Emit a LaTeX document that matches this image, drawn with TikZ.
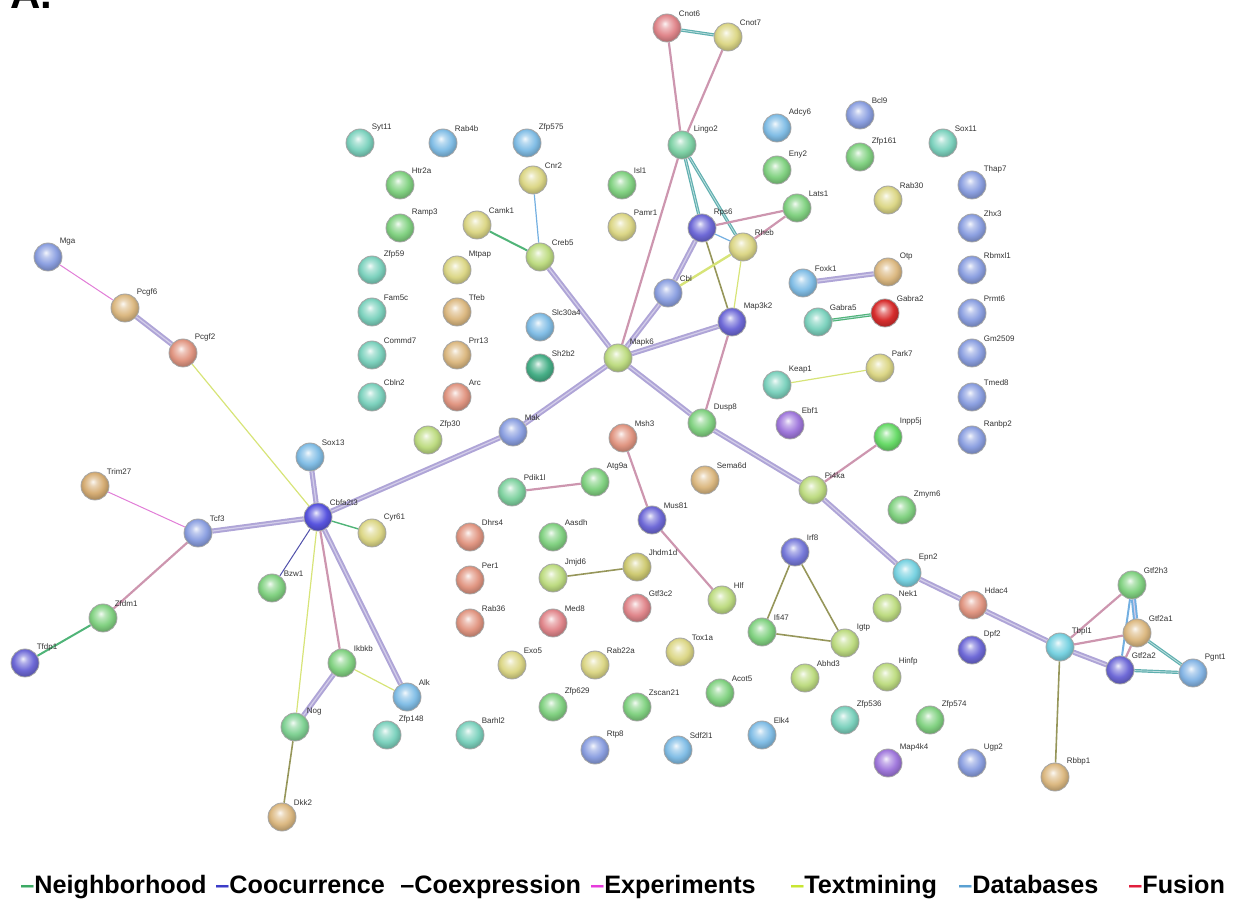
\documentclass[tikz,border=0pt]{standalone}
\usepackage{fontspec}
\setmainfont{Liberation Sans}
\usetikzlibrary{positioning}
\pgfdeclarelayer{bg}
\pgfsetlayers{bg,main}
% node colours
\definecolor{pBlue}{RGB}{140,160,225}
\definecolor{pDark}{RGB}{110,105,215}
\definecolor{pTeal}{RGB}{125,210,190}
\definecolor{pDeep}{RGB}{70,175,135}
\definecolor{pSky}{RGB}{130,190,230}
\definecolor{pGreen}{RGB}{130,210,130}
\definecolor{pLime}{RGB}{190,220,130}
\definecolor{pYellow}{RGB}{220,215,135}
\definecolor{pTan}{RGB}{220,185,130}
\definecolor{pSalmon}{RGB}{225,150,130}
\definecolor{pPink}{RGB}{225,135,140}
\definecolor{pRed}{RGB}{215,45,45}
\definecolor{pPurple}{RGB}{160,120,220}
\definecolor{pCyan}{RGB}{120,210,225}
% edge colours
\definecolor{eLav}{RGB}{175,165,215}
\definecolor{eMauve}{RGB}{205,150,175}
\definecolor{eExp}{RGB}{225,125,215}
\definecolor{eTxt}{RGB}{215,228,120}
\definecolor{eDb}{RGB}{115,175,225}
\definecolor{eNb}{RGB}{80,180,120}
\definecolor{eOl}{RGB}{150,150,90}
\definecolor{eTeal}{RGB}{95,175,175}
\definecolor{eCo}{RGB}{80,80,170}
% legend colours
\definecolor{legNb}{RGB}{60,170,100}
\definecolor{legCo}{RGB}{60,60,200}
\definecolor{legCx}{RGB}{0,0,0}
\definecolor{legEx}{RGB}{230,60,220}
\definecolor{legTm}{RGB}{200,230,50}
\definecolor{legDb}{RGB}{90,160,210}
\definecolor{legFu}{RGB}{225,30,60}
% glossy protein ball
\colorlet{protc}{pBlue}
\pgfdeclareradialshading[protc]{strball}{\pgfpoint{-4bp}{8bp}}{%
  color(0bp)=(protc!10!white); color(7bp)=(protc!55!white);
  color(18bp)=(protc); color(27bp)=(protc!80!black); color(50bp)=(protc!80!black)}
\tikzset{pcol/.code={\colorlet{protc}{#1}}}
\tikzstyle{prot}=[circle,minimum size=14pt,inner sep=0,draw=black!35,line width=0.4pt,shading=strball]
\tikzstyle{lab}=[font=\fontsize{4}{4}\selectfont,inner sep=0.6pt,text=black!80]
\tikzset{pr/.style 2 args={prot,pcol=#1,label={[lab]45:#2}}}
\tikzstyle{exper}=[draw=eExp,line width=0.5pt]
\tikzstyle{txtm}=[draw=eTxt,line width=0.6pt]
\tikzstyle{datab}=[draw=eDb,line width=0.6pt]
\tikzstyle{neigh}=[draw=eNb,line width=1pt]
\tikzstyle{cooc}=[draw=eCo,line width=0.5pt]
\tikzstyle{multi}=[draw=eLav,double=eLav!55!white,double distance=0.6pt,line width=1pt]
\tikzstyle{mauve}=[draw=eMauve,line width=1.1pt]
\tikzstyle{olive}=[draw=eOl,line width=0.8pt]
\tikzstyle{tealx}=[draw=eTeal,double=eTeal!40!white,double distance=0.4pt,line width=0.6pt]
\tikzstyle{leg}=[anchor=base west,inner sep=0,font=\bfseries\fontsize{12.6}{13}\selectfont]
\begin{document}
\begin{tikzpicture}[x=0.5pt,y=-0.5pt]
\useasboundingbox (0,0) rectangle (1233,903);
\node (panel) at (10,9) [anchor=base west,inner sep=0,font=\bfseries\fontsize{21}{21}\selectfont] {A.};
% connected proteins
\node (mga) at (48,257) [pr={pBlue}{Mga}] {};
\node (pcgf6) at (125,308) [pr={pTan}{Pcgf6}] {};
\node (pcgf2) at (183,353) [pr={pSalmon}{Pcgf2}] {};
\node (trim27) at (95,486) [pr={pTan!80!brown}{Trim27}] {};
\node (tcf3) at (198,533) [pr={pBlue}{Tcf3}] {};
\node (zfdm1) at (103,618) [pr={pGreen}{Zfdm1}] {};
\node (tfdp1) at (25,663) [pr={pDark}{Tfdp1}] {};
\node (sox13) at (310,457) [pr={pSky}{Sox13}] {};
\node (cbfa) at (318,517) [pr={pDark!80!blue}{Cbfa2t3}] {};
\node (cyr61) at (372,533) [pr={pYellow}{Cyr61}] {};
\node (bzw1) at (272,588) [pr={pGreen}{Bzw1}] {};
\node (ikbkb) at (342,663) [pr={pGreen}{Ikbkb}] {};
\node (alk) at (407,697) [pr={pSky}{Alk}] {};
\node (nog) at (295,727) [pr={pGreen!70!pTeal}{Nog}] {};
\node (dkk2) at (282,817) [pr={pTan}{Dkk2}] {};
\node (cnr2) at (533,180) [pr={pYellow}{Cnr2}] {};
\node (camk1) at (477,225) [pr={pYellow}{Camk1}] {};
\node (creb5) at (540,257) [pr={pLime}{Creb5}] {};
\node (mak) at (513,432) [pr={pBlue}{Mak}] {};
\node (mapk6) at (618,358) [pr={pLime}{Mapk6}] {};
\node (cnot6) at (667,28) [pr={pPink}{Cnot6}] {};
\node (cnot7) at (728,37) [pr={pYellow}{Cnot7}] {};
\node (lingo2) at (682,145) [pr={pTeal!60!pGreen}{Lingo2}] {};
\node (rps6) at (702,228) [pr={pDark}{Rps6}] {};
\node (rheb) at (743,247) [pr={pYellow}{Rheb}] {};
\node (lats1) at (797,208) [pr={pGreen}{Lats1}] {};
\node (cbl) at (668,293) [pr={pBlue}{Cbl}] {};
\node (map3k2) at (732,322) [pr={pDark}{Map3k2}] {};
\node (dusp8) at (702,423) [pr={pGreen}{Dusp8}] {};
\node (pi4ka) at (813,490) [pr={pLime}{Pi4ka}] {};
\node (inpp5j) at (888,437) [pr={pGreen!80!green}{Inpp5j}] {};
\node (epn2) at (907,573) [pr={pCyan}{Epn2}] {};
\node (hdac4) at (973,605) [pr={pSalmon}{Hdac4}] {};
\node (tbpl1) at (1060,647) [pr={pCyan}{Tbpl1}] {};
\node (gtf2h3) at (1132,585) [pr={pGreen}{Gtf2h3}] {};
\node (gtf2a1) at (1137,633) [pr={pTan}{Gtf2a1}] {};
\node (gtf2a2) at (1120,670) [pr={pDark}{Gtf2a2}] {};
\node (pgnt1) at (1193,673) [pr={pSky!70!pBlue}{Pgnt1}] {};
\node (rbbp1) at (1055,777) [pr={pTan}{Rbbp1}] {};
\node (msh3) at (623,438) [pr={pSalmon}{Msh3}] {};
\node (mus81) at (652,520) [pr={pDark}{Mus81}] {};
\node (hlf) at (722,600) [pr={pLime}{Hlf}] {};
\node (pdik1l) at (512,492) [pr={pTeal!50!pGreen}{Pdik1l}] {};
\node (atg9a) at (595,482) [pr={pGreen}{Atg9a}] {};
\node (jmjd6) at (553,578) [pr={pLime}{Jmjd6}] {};
\node (jhdm1d) at (637,567) [pr={pYellow!85!olive}{Jhdm1d}] {};
\node (irf8) at (795,552) [pr={pDark!70!pBlue}{Irf8}] {};
\node (ifi47) at (762,632) [pr={pGreen}{Ifi47}] {};
\node (igtp) at (845,643) [pr={pLime}{Igtp}] {};
\node (foxk1) at (803,283) [pr={pSky}{Foxk1}] {};
\node (otp) at (888,272) [pr={pTan}{Otp}] {};
\node (gabra5) at (818,322) [pr={pTeal}{Gabra5}] {};
\node (gabra2) at (885,313) [pr={pRed}{Gabra2}] {};
\node (keap1) at (777,385) [pr={pTeal}{Keap1}] {};
\node (park7) at (880,368) [pr={pYellow}{Park7}] {};
% proteins without partners
\foreach \n/\x/\y/\c in {Syt11/360/143/pTeal, Rab4b/443/143/pSky, Zfp575/527/143/pSky,
  Htr2a/400/185/pGreen, Ramp3/400/228/pGreen, Zfp59/372/270/pTeal, Fam5c/372/312/pTeal,
  Commd7/372/355/pTeal, Cbln2/372/397/pTeal, Mtpap/457/270/pYellow, Tfeb/457/312/pTan,
  Prr13/457/355/pTan, Arc/457/397/pSalmon, Zfp30/428/440/pLime, Slc30a4/540/327/pSky,
  Sh2b2/540/368/pDeep, Isl1/622/185/pGreen, Pamr1/622/227/pYellow, Adcy6/777/128/pSky,
  Bcl9/860/115/pBlue, Zfp161/860/157/pGreen, Eny2/777/170/pGreen, Rab30/888/200/pYellow,
  Sox11/943/143/pTeal, Thap7/972/185/pBlue, Zhx3/972/228/pBlue, Rbmxl1/972/270/pBlue,
  Prmt6/972/313/pBlue, Gm2509/972/353/pBlue, Tmed8/972/397/pBlue, Ranbp2/972/440/pBlue,
  Ebf1/790/425/pPurple, Sema6d/705/480/pTan, Zmym6/902/510/pGreen, Dhrs4/470/537/pSalmon,
  Aasdh/553/537/pGreen, Per1/470/580/pSalmon, Rab36/470/623/pSalmon, Med8/553/623/pPink,
  Gtf3c2/637/608/pPink, Exo5/512/665/pYellow, Rab22a/595/665/pYellow, Tox1a/680/652/pYellow,
  Zfp629/553/707/pGreen, Zscan21/637/707/pGreen, Acot5/720/693/pGreen, Barhl2/470/735/pTeal,
  Rtp8/595/750/pBlue, Sdf2l1/678/750/pSky, Elk4/762/735/pSky, Abhd3/805/678/pLime,
  Nek1/887/608/pLime, Hinfp/887/677/pLime, Zfp536/845/720/pTeal, Zfp574/930/720/pGreen,
  Map4k4/888/763/pPurple, Ugp2/972/763/pBlue, Dpf2/972/650/pDark, Zfp148/387/735/pTeal}
  \node (\n) at (\x,\y) [pr={\c}{\n}] {};
% interactions
\begin{pgfonlayer}{bg}
\draw[exper] (mga) -- (pcgf6);
\draw[multi] (pcgf6) -- (pcgf2);
\draw[txtm] (pcgf2) -- (cbfa);
\draw[exper] (trim27) -- (tcf3);
\draw[multi] (tcf3) -- (cbfa);
\draw[mauve] (tcf3) -- (zfdm1);
\draw[neigh] (zfdm1) -- (tfdp1);
\draw[multi] (sox13) -- (cbfa);
\draw[neigh,line width=0.7pt] (cbfa) -- (cyr61);
\draw[cooc] (cbfa) -- (bzw1);
\draw[txtm] (cbfa) -- (nog);
\draw[mauve] (cbfa) -- (ikbkb);
\draw[multi] (cbfa) -- (alk);
\draw[multi] (cbfa) -- (mak);
\draw[multi] (ikbkb) -- (nog);
\draw[txtm] (ikbkb) -- (alk);
\draw[olive] (nog) -- (dkk2);
\draw[datab] (cnr2) -- (creb5);
\draw[neigh] (camk1) -- (creb5);
\draw[multi] (creb5) -- (mapk6);
\draw[multi] (mak) -- (mapk6);
\draw[tealx] (cnot6) -- (cnot7);
\draw[mauve] (cnot6) -- (lingo2);
\draw[mauve] (cnot7) -- (lingo2);
\draw[mauve] (lingo2) -- (mapk6);
\draw[tealx] (lingo2) -- (rps6);
\draw[tealx] (lingo2) -- (rheb);
\draw[mauve] (rps6) -- (lats1);
\draw[mauve] (rheb) -- (lats1);
\draw[datab] (rps6) -- (rheb);
\draw[multi] (rps6) -- (cbl);
\draw[olive] (rps6) -- (map3k2);
\draw[txtm,line width=1.2pt] (rheb) -- (cbl);
\draw[txtm] (rheb) -- (map3k2);
\draw[multi] (cbl) -- (mapk6);
\draw[multi] (mapk6) -- (map3k2);
\draw[multi] (mapk6) -- (dusp8);
\draw[mauve] (map3k2) -- (dusp8);
\draw[multi] (dusp8) -- (pi4ka);
\draw[mauve] (pi4ka) -- (inpp5j);
\draw[multi] (pi4ka) -- (epn2);
\draw[multi] (epn2) -- (hdac4);
\draw[multi] (hdac4) -- (tbpl1);
\draw[mauve] (tbpl1) -- (gtf2h3);
\draw[mauve] (tbpl1) -- (gtf2a1);
\draw[multi] (tbpl1) -- (gtf2a2);
\draw[olive] (tbpl1) -- (rbbp1);
\draw[multi,draw=eDb] (gtf2h3) -- (gtf2a1);
\draw[datab,line width=1pt] (gtf2h3) -- (gtf2a2);
\draw[mauve] (gtf2a1) -- (gtf2a2);
\draw[tealx] (gtf2a1) -- (pgnt1);
\draw[tealx] (gtf2a2) -- (pgnt1);
\draw[mauve] (msh3) -- (mus81);
\draw[mauve] (mus81) -- (hlf);
\draw[mauve] (pdik1l) -- (atg9a);
\draw[olive] (jmjd6) -- (jhdm1d);
\draw[olive] (irf8) -- (ifi47);
\draw[olive] (irf8) -- (igtp);
\draw[olive] (ifi47) -- (igtp);
\draw[multi] (foxk1) -- (otp);
\draw[tealx,draw=eNb] (gabra5) -- (gabra2);
\draw[txtm] (keap1) -- (park7);
\end{pgfonlayer}
% legend
\foreach \n/\x/\c/\t in {lnb/20/legNb/Neighborhood, lco/215/legCo/Coocurrence,
  lcx/400/legCx/Coexpression, lex/590/legEx/Experiments, ltm/790/legTm/Textmining,
  ldb/958/legDb/Databases, lfu/1128/legFu/Fusion}
  \node (\n) at (\x,893) [leg] {\textcolor{\c}{\textendash}\t};
\end{tikzpicture}
\end{document}
